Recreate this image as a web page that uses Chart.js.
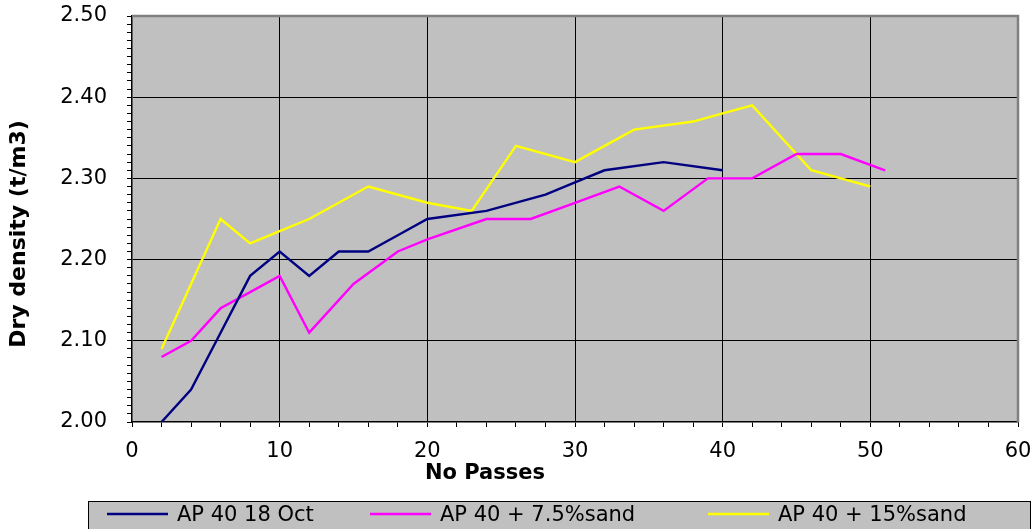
<!DOCTYPE html>
<html>
<head>
<meta charset="utf-8">
<script src="https://cdn.jsdelivr.net/npm/chart.js@4"></script>
<style>
  html, body { margin: 0; padding: 0; background: #ffffff; }
  #wrap { width: 1036px; height: 529px; position: relative; }
</style>
</head>
<body>
<div id="wrap"><canvas id="c" width="1036" height="529"></canvas></div>
<script>
// ---- data ----
const seriesLabels = ['AP 40 18 Oct', 'AP 40 + 7.5%sand', 'AP 40 + 15%sand'];

const oct18X = [2, 4, 6, 8, 10, 12, 14, 16, 18, 20, 24, 28, 30, 32, 36, 40];
const oct18Y = [2.00, 2.04, 2.11, 2.18, 2.21, 2.18, 2.21, 2.21, 2.23, 2.25, 2.26, 2.28, 2.295, 2.31, 2.32, 2.31];

const sand75X = [2, 4, 6, 8, 10, 12, 15, 18, 20, 24, 27, 30, 33, 36, 39, 42, 45, 48, 51];
const sand75Y = [2.08, 2.10, 2.14, 2.16, 2.18, 2.11, 2.17, 2.21, 2.225, 2.25, 2.25, 2.27, 2.29, 2.26, 2.30, 2.30, 2.33, 2.33, 2.31];

const sand15X = [2, 4, 6, 8, 10, 12, 16, 20, 23, 26, 30, 34, 38, 40, 42, 46, 48, 50];
const sand15Y = [2.09, 2.17, 2.25, 2.22, 2.235, 2.25, 2.29, 2.27, 2.26, 2.34, 2.32, 2.36, 2.37, 2.38, 2.39, 2.31, 2.30, 2.29];

const xTickLabels = ['0', '10', '20', '30', '40', '50', '60'];
const yTickLabels = ['2.00', '2.10', '2.20', '2.30', '2.40', '2.50'];
const xMinorStep = 2;
const yMinorStep = 0.01;

const xTitle = 'No Passes';
const yTitle = 'Dry density (t/m3)';

// ---- styles ----
const colors = ['#000080', '#FF00FF', '#FFFF00'];
const FONT = "'DejaVu Sans', Verdana, sans-serif";

function pts(xs, ys) { return xs.map((x, i) => ({ x: x, y: ys[i] })); }

const xMajor = xTickLabels.map(Number);
const yMajor = yTickLabels.map(Number);
const xMin = xMajor[0], xMax = xMajor[xMajor.length - 1];
const yMin = yMajor[0], yMax = yMajor[yMajor.length - 1];

function isMajor(v, majors) { return majors.some(m => Math.abs(m - v) < 1e-6); }

const plotBg = {
  id: 'plotBg',
  beforeDraw(chart) {
    const { ctx, chartArea: a } = chart;
    ctx.save();
    ctx.fillStyle = '#C0C0C0';
    ctx.fillRect(a.left, a.top, a.right - a.left, a.bottom - a.top);
    ctx.restore();
  },
  beforeDatasetsDraw(chart) {
    const { ctx, chartArea: a } = chart;
    ctx.save();
    ctx.strokeStyle = '#808080';
    ctx.lineWidth = 2.5;
    ctx.beginPath();
    ctx.moveTo(a.left, a.top);
    ctx.lineTo(a.right, a.top);
    ctx.lineTo(a.right, a.bottom);
    ctx.stroke();
    ctx.restore();
  },
  afterDraw(chart) {
    const { ctx } = chart;
    ctx.save();
    ctx.fillStyle = '#000';
    ctx.font = 'bold 21px ' + FONT;
    ctx.textAlign = 'center';
    ctx.textBaseline = 'middle';
    ctx.fillText(xTitle, 485, 474);
    ctx.font = 'bold 22px ' + FONT;
    ctx.translate(19, 234);
    ctx.rotate(-Math.PI / 2);
    ctx.fillText(yTitle, 0, 0);
    ctx.restore();

    // legend
    ctx.save();
    ctx.fillStyle = '#C0C0C0';
    ctx.fillRect(88, 501, 1030 - 88, 40);
    ctx.strokeStyle = '#000';
    ctx.lineWidth = 1;
    ctx.strokeRect(88.5, 501.5, 1030 - 88, 40);
    const starts = [107, 370, 708];
    ctx.font = '21px ' + FONT;
    ctx.textAlign = 'left';
    ctx.textBaseline = 'middle';
    chart.data.datasets.forEach((ds, i) => {
      const x0 = starts[i];
      ctx.strokeStyle = ds.borderColor;
      ctx.lineWidth = 2.5;
      ctx.beginPath();
      ctx.moveTo(x0, 514);
      ctx.lineTo(x0 + 61, 514);
      ctx.stroke();
      ctx.fillStyle = '#000';
      ctx.fillText(ds.label, x0 + 70, 516);
    });
    ctx.restore();
  }
};

new Chart(document.getElementById('c'), {
  type: 'line',
  data: {
    datasets: [
      { label: seriesLabels[0], data: pts(oct18X, oct18Y), borderColor: colors[0], backgroundColor: colors[0] },
      { label: seriesLabels[1], data: pts(sand75X, sand75Y), borderColor: colors[1], backgroundColor: colors[1] },
      { label: seriesLabels[2], data: pts(sand15X, sand15Y), borderColor: colors[2], backgroundColor: colors[2] }
    ]
  },
  options: {
    responsive: false,
    animation: false,
    devicePixelRatio: 1,
    layout: { padding: { left: 0, top: 16, right: 18, bottom: 529 - 422 - 50 } },
    elements: {
      line: { borderWidth: 2.4, tension: 0, fill: false },
      point: { radius: 0, hoverRadius: 0 }
    },
    plugins: { legend: { display: false }, tooltip: { enabled: false } },
    scales: {
      x: {
        type: 'linear',
        min: xMin, max: xMax,
        afterFit(s) { s.height = 50; s.paddingLeft = 0; s.paddingRight = 0; },
        afterBuildTicks(s) {
          const t = [];
          for (let v = xMin; v <= xMax + 1e-9; v += xMinorStep) t.push({ value: v });
          s.ticks = t;
        },
        ticks: {
          autoSkip: false,
          maxRotation: 0,
          padding: 12,
          color: '#000',
          font: { family: FONT, size: 21 },
          callback(v) {
            const idx = xMajor.findIndex(m => Math.abs(m - v) < 1e-6);
            return idx >= 0 ? xTickLabels[idx] : '';
          }
        },
        grid: {
          color(ctx) {
            const v = ctx.tick ? ctx.tick.value : null;
            if (v === null) return 'transparent';
            if (Math.abs(v - xMin) < 1e-6 || Math.abs(v - xMax) < 1e-6) return 'transparent';
            return isMajor(v, xMajor) ? '#000' : 'transparent';
          },
          tickColor: '#000',
          tickLength: 5,
          lineWidth: 1
        },
        border: { color: '#000', width: 1.5 }
      },
      y: {
        type: 'linear',
        min: yMin, max: yMax,
        afterFit(s) { s.width = 132; s.paddingTop = 0; s.paddingBottom = 0; },
        afterBuildTicks(s) {
          const t = [];
          const n = Math.round((yMax - yMin) / yMinorStep);
          for (let i = 0; i <= n; i++) t.push({ value: Math.round((yMin + i * yMinorStep) * 100) / 100 });
          s.ticks = t;
        },
        ticks: {
          autoSkip: false,
          padding: 20,
          color: '#000',
          font: { family: FONT, size: 21 },
          callback(v) {
            const idx = yMajor.findIndex(m => Math.abs(m - v) < 1e-6);
            return idx >= 0 ? yTickLabels[idx] : '';
          }
        },
        grid: {
          color(ctx) {
            const v = ctx.tick ? ctx.tick.value : null;
            if (v === null) return 'transparent';
            if (Math.abs(v - yMin) < 1e-6 || Math.abs(v - yMax) < 1e-6) return 'transparent';
            return isMajor(v, yMajor) ? '#000' : 'transparent';
          },
          tickColor: '#000',
          tickLength: 5,
          lineWidth: 1
        },
        border: { color: '#000', width: 1.5 }
      }
    }
  },
  plugins: [plotBg]
});
</script>
</body>
</html>
